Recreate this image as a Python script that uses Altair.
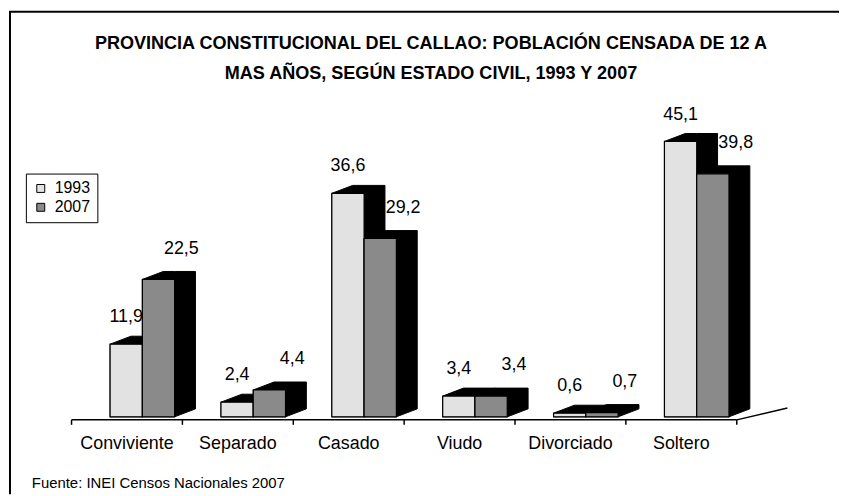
import altair as alt
import pandas as pd

# ---------------- data ----------------
categories = ["Conviviente", "Separado", "Casado", "Viudo", "Divorciado", "Soltero"]
years = ["1993", "2007"]
v1993 = [11.9, 2.4, 36.6, 3.4, 0.6, 45.1]
v2007 = [22.5, 4.4, 29.2, 3.4, 0.7, 39.8]
title_lines = [
    "PROVINCIA CONSTITUCIONAL DEL CALLAO: POBLACIÓN CENSADA DE 12 A",
    "MAS AÑOS, SEGÚN ESTADO CIVIL, 1993 Y 2007",
]
source_note = "Fuente: INEI Censos Nacionales 2007"

# ---------------- layout ----------------
FONT = "Liberation Sans"
W, H = 837, 488
PX_X = 111.67      # pixels per category slot
X0_PX = 64         # plot px of first category boundary
PX_Y = 6.15        # pixels per percentage point
Y0_PX = 410        # plot px of value 0

x_dom = [-0.5 - X0_PX / PX_X, -0.5 + (W - X0_PX) / PX_X]
y_dom = [-(H - Y0_PX) / PX_Y, Y0_PX / PX_Y]
xs = alt.Scale(domain=x_dom, nice=False, zero=False)
ys = alt.Scale(domain=y_dom, nice=False, zero=False)

BAR_W = 32.5 / PX_X
SHIFT = 15.5 / PX_X
DX = 21 / PX_X
DY = 8 / PX_Y
LAB_DX = [0.0, 23 / PX_X]
LAB_DY = [14 / PX_Y, 18 / PX_Y]
FILLS = ["#e2e2e2", "#8a8a8a"]

fronts, polys, labels = [], [], []
for i, cat in enumerate(categories):
    for k, (yr, vals) in enumerate(zip(years, [v1993, v2007])):
        v = vals[i]
        xl = i + SHIFT - BAR_W + k * BAR_W
        xr = xl + BAR_W
        bid = f"b{i}_{k}"
        fronts.append(dict(cat=cat, year=yr, v=v, xl=xl, xr=xr, base=0.0))
        for px, lo, hi in [(xl, 0, v), (xl + DX, 0, v + DY), (xr, 0, v + DY), (xr + DX, DY, v + DY)]:
            polys.append(dict(bid=bid, year=yr, x=px, lo=lo, hi=hi))
        labels.append(dict(year=yr, x=(xl + xr) / 2 + LAB_DX[k], y=v + DY + LAB_DY[k],
                           text=f"{v:.1f}".replace(".", ",")))

fronts = pd.DataFrame(fronts)
polys = pd.DataFrame(polys)
labels = pd.DataFrame(labels)
cats_df = pd.DataFrame({"cat": categories, "x": list(range(len(categories))), "y": 0.0})

FLOOR_Y = -0.5
n = len(categories)
floor_front = pd.DataFrame({"x": [-0.5], "x2": [n - 0.5], "y": [FLOOR_Y], "y2": [FLOOR_Y]})
floor_side = pd.DataFrame({"x": [n - 0.5], "x2": [n - 0.5 + 51 / PX_X],
                           "y": [FLOOR_Y], "y2": [FLOOR_Y + 12 / PX_Y]})
ticks = pd.DataFrame({"x": [b - 0.5 for b in range(n + 1)]})
ticks["y"] = FLOOR_Y
ticks["y2"] = FLOOR_Y - 5 / PX_Y

fill_scale = alt.Scale(domain=years, range=FILLS)
legend = alt.Legend(title=None, orient="none", legendX=18, legendY=165,
                    symbolType="square", symbolSize=64, symbolStrokeColor="black",
                    symbolStrokeWidth=1, labelFont=FONT, labelFontSize=16,
                    labelColor="black", strokeColor="black", padding=7,
                    rowPadding=3, fillColor="white", labelOffset=6)

layers = []

# floor
layers.append(alt.Chart(floor_front).mark_rule(color="black", strokeWidth=1.5).encode(
    x=alt.X("x:Q", scale=xs, axis=None), x2="x2:Q",
    y=alt.Y("y:Q", scale=ys, axis=None), y2="y2:Q"))
layers.append(alt.Chart(floor_side).mark_rule(color="black", strokeWidth=1.5).encode(
    x=alt.X("x:Q", scale=xs, axis=None), x2="x2:Q",
    y=alt.Y("y:Q", scale=ys, axis=None), y2="y2:Q"))
layers.append(alt.Chart(ticks).mark_rule(color="black", strokeWidth=1.5).encode(
    x=alt.X("x:Q", scale=xs, axis=None),
    y=alt.Y("y:Q", scale=ys, axis=None), y2="y2:Q"))

for k, yr in enumerate(years):
    layers.append(alt.Chart(polys[polys.year == yr]).mark_area(
        color="black", stroke="black", strokeWidth=1, interpolate="linear",
        orient="vertical").encode(
        x=alt.X("x:Q", scale=xs, axis=None),
        y=alt.Y("hi:Q", scale=ys, axis=None), y2="lo:Q",
        detail="bid:N"))
    layers.append(alt.Chart(fronts[fronts.year == yr]).mark_rect(
        stroke="black", strokeWidth=1.2).encode(
        x=alt.X("xl:Q", scale=xs, axis=None), x2="xr:Q",
        y=alt.Y("base:Q", scale=ys, axis=None), y2="v:Q",
        fill=alt.Fill("year:N", scale=fill_scale, legend=legend)))

layers.append(alt.Chart(labels).mark_text(
    font=FONT, fontSize=18, color="black", align="center", baseline="alphabetic").encode(
    x=alt.X("x:Q", scale=xs, axis=None), y=alt.Y("y:Q", scale=ys, axis=None), text="text:N"))

layers.append(alt.Chart(cats_df).mark_text(
    font=FONT, fontSize=18, color="black", align="center", baseline="alphabetic", dy=32).encode(
    x=alt.X("x:Q", scale=xs, axis=None), y=alt.Y("y:Q", scale=ys, axis=None), text="cat:N"))

# title lines
for j, ypx in enumerate([40, 70]):
    layers.append(alt.Chart(pd.DataFrame({"t": [title_lines[j]]})).mark_text(
        font=FONT, fontSize=18.2, fontWeight="bold", color="black",
        align="center", baseline="alphabetic").encode(
        text="t:N", x=alt.value(426), y=alt.value(ypx)))

# source note
layers.append(alt.Chart(pd.DataFrame({"t": [source_note]})).mark_text(
    font=FONT, fontSize=15, color="black", align="left", baseline="alphabetic").encode(
    text="t:N", x=alt.value(24), y=alt.value(482)))

# frame
layers.append(alt.Chart(pd.DataFrame({"a": [0]})).mark_rule(color="black", strokeWidth=2).encode(
    x=alt.value(1), x2=alt.value(W), y=alt.value(2)))
layers.append(alt.Chart(pd.DataFrame({"a": [0]})).mark_rule(color="black", strokeWidth=2).encode(
    x=alt.value(2), y=alt.value(2), y2=alt.value(H)))

chart = alt.layer(*layers).properties(
    width=W, height=H, padding=0,
    autosize=alt.AutoSizeParams(type="none"),
    background="white",
).configure_view(strokeWidth=0).configure_legend(strokeWidth=1)

chart.save("out.html", embed_options={"renderer": "svg", "actions": False})
